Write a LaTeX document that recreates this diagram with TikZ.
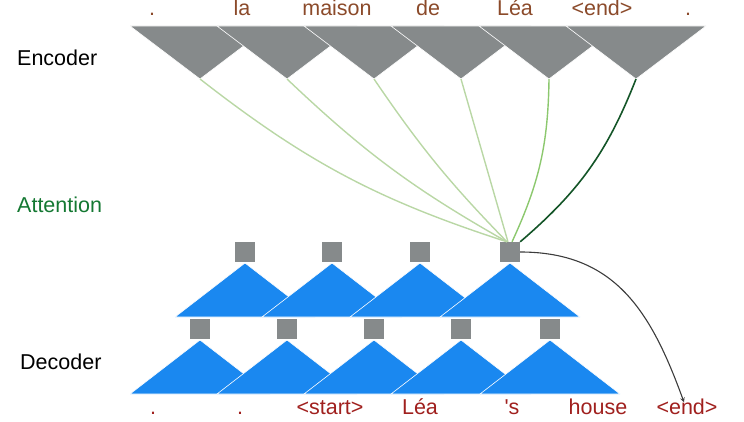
\documentclass[tikz,border=0pt]{standalone}
\usepackage{fontspec}
\setmainfont{Liberation Sans}
\usepackage{xcolor}
\usepackage{tikz}
\usetikzlibrary{arrows, positioning, calc}
\definecolor{encgray}{RGB}{134,138,139}
\definecolor{decblue}{RGB}{26,136,240}
\definecolor{encword}{RGB}{139,74,42}
\definecolor{decword}{RGB}{160,32,30}
\definecolor{attngreen}{RGB}{20,120,50}
\definecolor{softgreen}{RGB}{185,215,165}
\definecolor{midgreen}{RGB}{140,200,110}
\definecolor{darkgreen}{RGB}{20,85,40}
\tikzset{
  enctri/.style={
    fill=encgray,
    draw=white,
    line width=0.6pt
  },
  dectri/.style={
    fill=decblue,
    draw=white,
    line width=0.6pt
  },
  cell/.style={
    rectangle,
    minimum size=20pt,
    inner sep=0pt,
    fill=encgray
  },
  srcword/.style={
    anchor=base,
    inner sep=0pt,
    text=encword,
    font=\fontsize{21.5}{24}\selectfont
  },
  tgtword/.style={
    anchor=base,
    inner sep=0pt,
    text=decword,
    font=\fontsize{21.5}{24}\selectfont
  },
  rowlabel/.style={
    anchor=base west,
    inner sep=0pt,
    font=\fontsize{21.5}{24}\selectfont
  },
  attn/.style={
    softgreen,
    line width=1.4pt
  },
  arrow/.style={
    line width=1.1pt,
    draw={rgb,255:red,60;green,60;blue,60},
    ->,
    >=stealth
  }
}

\begin{document}
\begin{tikzpicture}[x=1pt, y=1pt]
\useasboundingbox (0,0) rectangle (744,-422);

% Labels
\node (enclabel) [rowlabel] at (17,-66) {Encoder};
\node (attnlabel) [rowlabel, text=attngreen] at (17,-213) {Attention};
\node (declabel) [rowlabel] at (20,-369) {Decoder};

% Encoder
\fill[enctri] (130,-26) -- (270,-26) -- (200,-79) -- cycle;
\fill[enctri] (217,-26) -- (357,-26) -- (287,-79) -- cycle;
\fill[enctri] (304,-26) -- (444,-26) -- (374,-79) -- cycle;
\fill[enctri] (391,-26) -- (531,-26) -- (461,-79) -- cycle;
\fill[enctri] (479,-26) -- (619,-26) -- (549,-79) -- cycle;
\fill[enctri] (566,-26) -- (706,-26) -- (636,-79) -- cycle;
\coordinate (enc1) at (200,-79);
\coordinate (enc2) at (287,-79);
\coordinate (enc3) at (374,-79);
\coordinate (enc4) at (461,-79);
\coordinate (enc5) at (549,-79);
\coordinate (enc6) at (636,-79);

% Source words
\node (src1) [srcword] at (152,-16) {.};
\node (src2) [srcword] at (242,-16) {la};
\node (src3) [srcword] at (337,-16) {maison};
\node (src4) [srcword] at (428,-16) {de};
\node (src5) [srcword] at (515,-16) {Léa};
\node (src6) [srcword] at (602,-16) {<end>};
\node (src7) [srcword] at (688,-16) {.};

% Decoder, upper layer
\fill[dectri] (175,-317) -- (315,-317) -- (245,-263) -- cycle;
\fill[dectri] (262,-317) -- (402,-317) -- (332,-263) -- cycle;
\fill[dectri] (350,-317) -- (490,-317) -- (420,-263) -- cycle;
\fill[dectri] (440,-317) -- (580,-317) -- (510,-263) -- cycle;
\node (top1) [cell] at (245,-252) {};
\node (top2) [cell] at (332,-252) {};
\node (top3) [cell] at (420,-252) {};
\node (top4) [cell] at (510,-252) {};

% Decoder, lower layer
\fill[dectri] (130,-394) -- (270,-394) -- (200,-340) -- cycle;
\fill[dectri] (217,-394) -- (357,-394) -- (287,-340) -- cycle;
\fill[dectri] (304,-394) -- (444,-394) -- (374,-340) -- cycle;
\fill[dectri] (391,-394) -- (531,-394) -- (461,-340) -- cycle;
\fill[dectri] (480,-394) -- (620,-394) -- (550,-340) -- cycle;
\node (bot1) [cell] at (200,-329) {};
\node (bot2) [cell] at (287,-329) {};
\node (bot3) [cell] at (374,-329) {};
\node (bot4) [cell] at (461,-329) {};
\node (bot5) [cell] at (550,-329) {};

% Target words
\node (tgt1) [tgtword] at (153,-414) {.};
\node (tgt2) [tgtword] at (240,-414) {.};
\node (tgt3) [tgtword] at (330,-414) {<start>};
\node (tgt4) [tgtword] at (420,-414) {Léa};
\node (tgt5) [tgtword] at (512,-414) {\textquotesingle s};
\node (tgt6) [tgtword] at (598,-414) {house};
\node (tgt7) [tgtword] at (687,-414) {<end>};

% Attention
\draw [attn] (enc1) to[bend right=10] ($(top4.north west)!0.35!(top4.north east)$);
\draw [attn] (enc2) to[bend right=7] ($(top4.north west)!0.35!(top4.north east)$);
\draw [attn] (enc3) to[bend right=5] ($(top4.north west)!0.35!(top4.north east)$);
\draw [attn] (enc4) -- ($(top4.north west)!0.4!(top4.north east)$);
\draw [attn, midgreen] (enc5) to[bend left=12] ($(top4.north west)!0.6!(top4.north east)$);
\draw [attn, darkgreen, line width=1.6pt] (enc6) to[bend left=14] (top4.north east);

% Output
\draw [arrow] (top4.east) to[out=0, in=110, looseness=1.1] ($(tgt7.north)+(-3,-4)$);
\end{tikzpicture}
\end{document}
